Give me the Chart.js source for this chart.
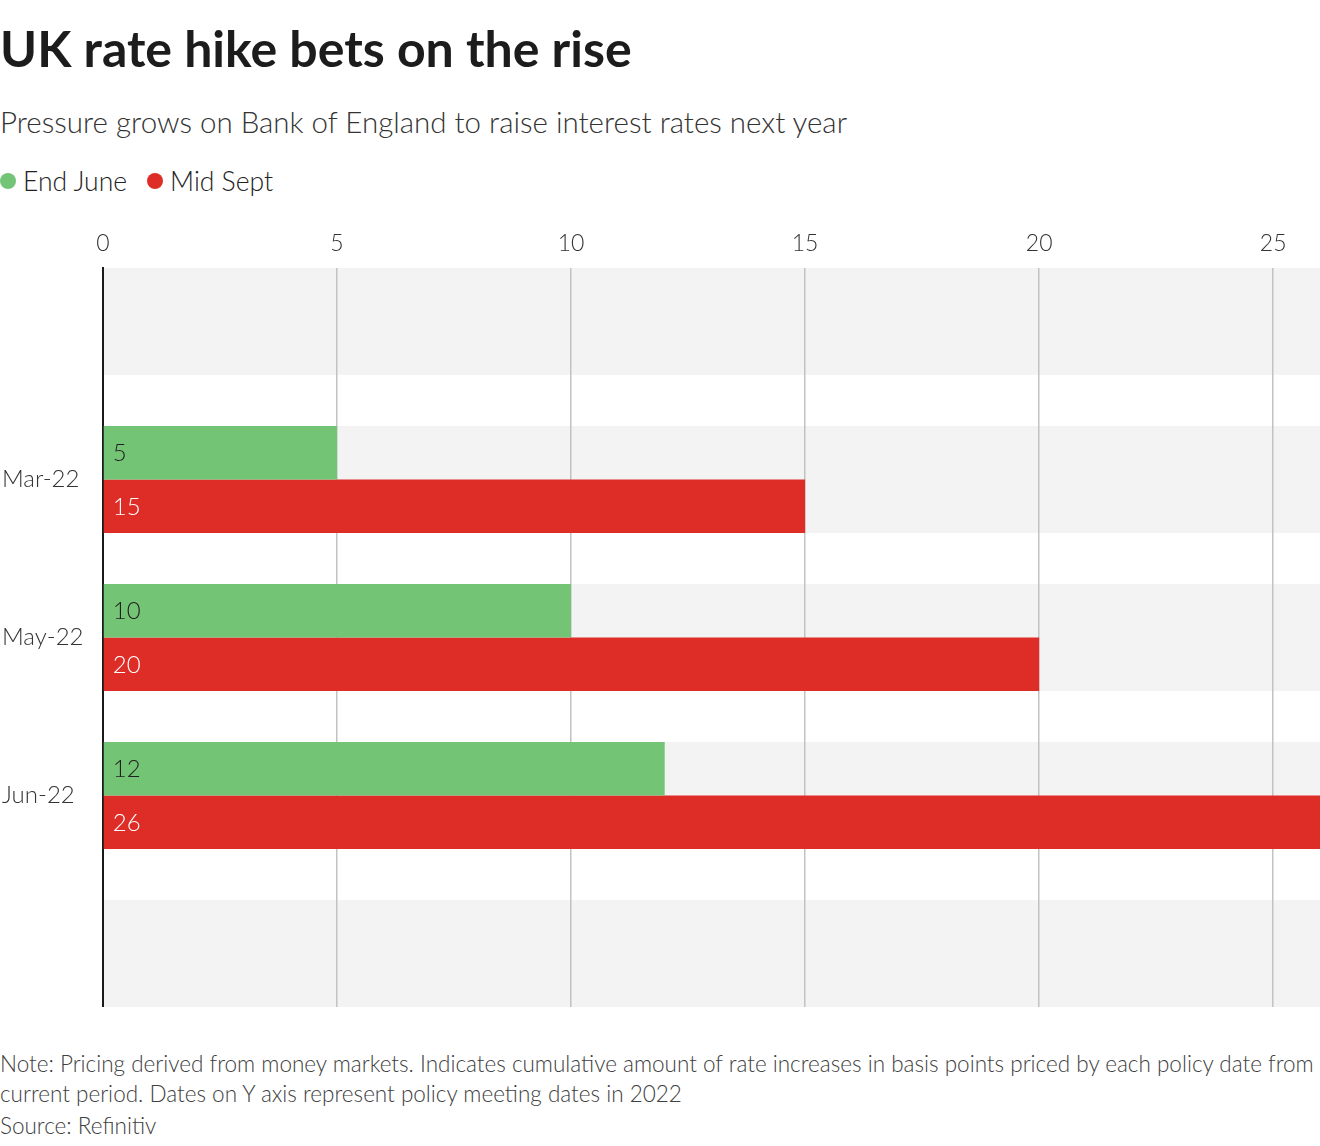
<!DOCTYPE html>
<html>
<head>
<meta charset="utf-8">
<script src="https://cdn.jsdelivr.net/npm/chart.js@4.4.1/dist/chart.umd.min.js"></script>
<style>
  body { margin: 0; background: #fff; font-family: Lato, sans-serif; color: #222; }
  #page { position: relative; width: 1320px; height: 1146px; overflow: hidden; }
  .title { position: absolute; left: 0; top: 18px; font-size: 50px; font-weight: 700; line-height: 1.2; color: #1c1c1c; white-space: nowrap; }
  .subtitle { position: absolute; left: 0; top: 104px; font-size: 29.5px; font-weight: 300; line-height: 1.2; color: #333; white-space: nowrap; }
  .legend { position: absolute; left: 0; top: 165px; height: 32px; display: flex; align-items: center; font-size: 26.5px; font-weight: 300; color: #222; white-space: nowrap; }
  .legend i { display: inline-block; width: 16px; height: 16px; border-radius: 50%; margin-right: 7px; }
  .legend span { margin-right: 20px; }
  #box { position: absolute; left: 0; top: 200px; width: 1320px; height: 807px; }
  .note { position: absolute; left: 0; top: 1049px; font-size: 22.5px; font-weight: 300; line-height: 30px; color: #404040; white-space: nowrap; }
  .note .src { display: block; margin-top: 2px; }
</style>
</head>
<body>
<div id="page">
  <div class="title">UK rate hike bets on the rise</div>
  <div class="subtitle">Pressure grows on Bank of England to raise interest rates next year</div>
  <div class="legend" id="legend"></div>
  <div id="box"><canvas id="chart"></canvas></div>
  <div class="note">Note: Pricing derived from money markets. Indicates cumulative amount of rate increases in basis points priced by each policy date from<br>current period. Dates on Y axis represent policy meeting dates in 2022<span class="src">Source: Refinitiv</span></div>
</div>
<script>
// policy meeting dates (y axis) and basis points priced
var categories = ['Mar-22', 'May-22', 'Jun-22'];
var endJune = [5, 10, 12];
var midSept = [15, 20, 26];
var xTicks = [0, 5, 10, 15, 20, 25];

var green = '#74c476';
var red = '#de2d27';
var groupShare = 107 / 158;   // bar group height / category spacing

// categories sit at 1..3, with an empty slot above (0) and below (4)
function toPoints(values) {
    return values.map(function(v, i) { return { x: v, y: i + 1 }; });
}

var bandPlugin = {
    id: 'bands',
    beforeDraw: function(chart) {
        var area = chart.chartArea, y = chart.scales.y, ctx = chart.ctx;
        var half = Math.abs(y.getPixelForValue(1) - y.getPixelForValue(0)) * groupShare / 2;
        ctx.save();
        ctx.beginPath();
        ctx.rect(area.left, area.top, area.right - area.left, area.bottom - area.top);
        ctx.clip();
        ctx.fillStyle = '#f3f3f3';
        for (var i = 0; i <= categories.length + 1; i++) {
            var c = y.getPixelForValue(i);
            ctx.fillRect(area.left, c - half, area.right - area.left, half * 2);
        }
        ctx.restore();
    }
};

var labelPlugin = {
    id: 'barLabels',
    afterDatasetsDraw: function(chart) {
        var ctx = chart.ctx;
        ctx.save();
        ctx.font = '300 24px Lato';
        ctx.textBaseline = 'middle';
        ctx.textAlign = 'left';
        chart.data.datasets.forEach(function(ds, di) {
            ctx.fillStyle = di === 0 ? '#1f1f1f' : '#ffffff';
            chart.getDatasetMeta(di).data.forEach(function(bar, i) {
                ctx.fillText(String(ds.data[i].x), bar.base + 9, bar.y + 1);
            });
        });
        ctx.restore();
    }
};

var ctx = document.getElementById('chart').getContext('2d');
var myChart = new Chart(ctx, {
    type: 'bar',
    data: {
        datasets: [{
                label: 'End June',
                data: toPoints(endJune),
                backgroundColor: green,
                borderWidth: 0
            },
            {
                label: 'Mid Sept',
                data: toPoints(midSept),
                backgroundColor: red,
                borderWidth: 0
            }
        ]
    },
    options: {
        indexAxis: 'y',
        responsive: true,
        maintainAspectRatio: false,
        animation: false,
        categoryPercentage: groupShare,
        barPercentage: 1,
        layout: { padding: { left: 2 } },
        plugins: {
            legend: { display: false },
            tooltip: { enabled: false }
        },
        scales: {
            x: {
                type: 'linear',
                position: 'top',
                min: 0,
                max: 26,
                afterBuildTicks: function(scale) {
                    scale.ticks = xTicks.map(function(v) { return { value: v }; });
                },
                afterFit: function(scale) { scale.height = 68; },
                ticks: {
                    padding: 11,
                    color: '#333',
                    font: { family: 'Lato', size: 23, weight: '300' }
                },
                grid: { color: '#c2c2c2', lineWidth: 1.5, drawTicks: false },
                border: { display: false }
            },
            y: {
                type: 'linear',
                reverse: true,
                offset: false,
                min: -groupShare / 2,
                max: categories.length + 1 + groupShare / 2,
                afterBuildTicks: function(scale) {
                    scale.ticks = categories.map(function(c, i) { return { value: i + 1 }; });
                },
                afterFit: function(scale) {
                    scale.width = 101;
                    scale.paddingTop = 0;
                    scale.paddingBottom = 0;
                },
                ticks: {
                    crossAlign: 'far',
                    color: '#333',
                    font: { family: 'Lato', size: 24, weight: '300' },
                    callback: function(v) { return categories[v - 1] || ''; }
                },
                grid: { display: false, drawTicks: false, offset: false },
                border: { display: true, color: '#1a1a1a', width: 2 }
            }
        }
    },
    plugins: [bandPlugin, labelPlugin]
});

// legend in the page, coloured like the datasets
var legendEl = document.getElementById('legend');
myChart.data.datasets.forEach(function(ds) {
    var dot = document.createElement('i');
    dot.style.background = ds.backgroundColor;
    var txt = document.createElement('span');
    txt.textContent = ds.label;
    legendEl.appendChild(dot);
    legendEl.appendChild(txt);
});
</script>
</body>
</html>
